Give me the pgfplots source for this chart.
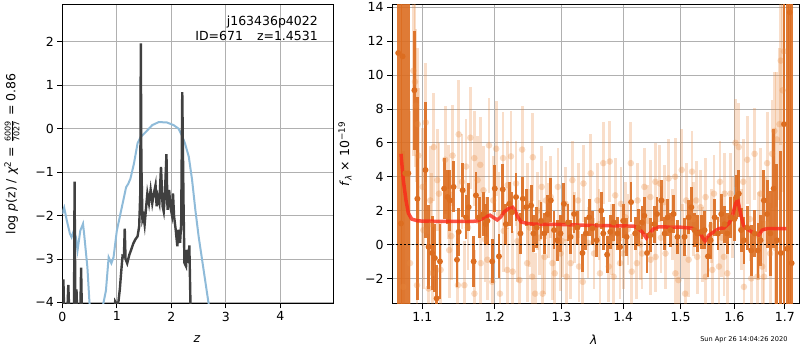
\documentclass[border=0pt]{standalone}
\usepackage{fontspec}
\setmainfont{DejaVu Sans}
\usepackage{pgfplots}
\usepackage{pgfplotstable}
\pgfplotsset{compat=1.18}
\definecolor{gridgray}{HTML}{B0B0B0}
\definecolor{pzblue}{HTML}{8FBBD9}
\definecolor{pzgray}{HTML}{404040}
\definecolor{darkor}{HTML}{DC6D20}
\definecolor{lightor}{HTML}{E8893F}
\definecolor{modelred}{HTML}{FA2819}

\pgfplotstableread{
z y
0.000 -4.30
0.020 -3.47
0.035 -4.30
0.090 -4.30
0.110 -3.60
0.130 -4.30
0.215 -4.30
0.225 -1.22
0.240 -4.30
0.260 -3.70
0.275 -4.30
0.330 -4.30
0.345 -3.20
0.360 -4.30
0.950 -4.30
0.970 -3.98
1.000 -4.05
1.030 -3.98
1.055 -3.70
1.080 -3.30
1.105 -2.93
1.130 -2.95
1.145 -2.30
1.160 -3.00
1.190 -3.10
1.230 -2.90
1.260 -2.80
1.300 -2.65
1.340 -2.55
1.380 -2.48
1.410 -2.25
1.430 -1.50
1.440 1.96
1.450 -0.80
1.470 -2.10
1.490 -2.02
1.510 -2.21
1.530 -1.91
1.560 -1.49
1.590 -1.72
1.620 -1.41
1.650 -1.72
1.680 -1.49
1.710 -1.30
1.730 -1.79
1.750 -1.56
1.780 -1.72
1.810 -0.88
1.840 -1.79
1.860 -1.91
1.880 -1.56
1.910 -0.59
1.930 -1.87
1.960 -1.41
1.980 -1.79
2.010 -1.98
2.030 -1.49
2.050 -2.02
2.080 -2.33
2.110 -2.71
2.130 -2.33
2.160 -2.63
2.180 -2.18
2.200 0.84
2.225 -1.90
2.240 -3.09
2.270 -3.17
2.285 -2.79
2.310 -3.09
2.330 -2.69
2.350 -4.00
2.360 -4.30
}\graytab

\pgfplotstableread{
z y
0.000 -1.96
0.035 -1.82
0.080 -2.10
0.140 -2.42
0.170 -2.50
0.210 -2.35
0.250 -2.50
0.280 -2.80
0.330 -2.35
0.380 -2.19
0.400 -2.42
0.460 -3.19
0.500 -4.04
0.520 -4.30
0.730 -4.30
0.750 -4.04
0.800 -3.73
0.850 -2.96
0.900 -3.10
0.940 -2.96
1.000 -2.35
1.080 -1.88
1.170 -1.35
1.210 -1.27
1.250 -1.15
1.315 -0.80
1.380 -0.34
1.440 -0.19
1.530 -0.08
1.650 0.08
1.770 0.15
1.920 0.14
2.040 0.08
2.130 0.00
2.190 -0.15
2.250 -0.34
2.320 -0.65
2.380 -1.18
2.440 -1.87
2.500 -2.48
2.590 -3.24
2.680 -4.00
2.720 -4.30
}\bluetab

\pgfplotstableread{
x y e
1.0687 11.3 20
1.0722 1.24 20
1.0743 11.1 20
1.0778 4.2 20
1.0817 4.2 12
1.0896 9.1 3.5
1.0935 2.7 6
1.1042 4.4 4
1.1083 -0.14 2.5
1.1130 -0.5 2.2
1.1167 -0.8 2.0
1.1190 -3.18 2.0
1.1236 -1.0 2.2
1.1292 3.3 1.8
1.1338 2.8 1.6
1.1370 2.6 1.8
1.1421 3.4 1.5
1.1468 -0.9 1.6
1.1491 0.75 1.4
1.1546 3.2 1.6
1.1593 1.6 1.3
1.1630 2.2 1.4
1.1699 -1.0 1.5
1.1732 2.9 1.4
1.1778 1.6 1.2
1.1833 1.8 1.3
1.1870 1.2 1.2
1.1894 1.4 1.4
1.1963 -1.0 1.3
1.2000 3.3 1.4
1.2060 -0.7 1.3
1.2115 3.25 1.5
1.2160 1.2 1.2
1.2210 2.4 1.3
1.2250 1.9 1.2
1.2310 2.8 1.4
1.2375 0.65 1.2
1.2410 2.7 1.3
1.2460 2.2 1.1
1.2535 2.3 1.2
1.2570 0.65 1.1
1.2620 1.0 1.2
1.2685 1.4 1.1
1.2735 0.65 1.2
1.2785 1.8 1.1
1.2835 2.6 1.3
1.2885 0.85 1.1
1.2935 0.25 1.2
1.2985 0.65 1.1
1.3037 2.4 1.2
1.3102 1.3 1.1
1.3144 0.45 1.0
1.3198 1.8 1.1
1.3251 1.0 1.0
1.3332 -0.5 1.1
1.3385 0.65 1.0
1.3439 1.6 1.1
1.3492 0.95 1.0
1.3562 0.25 1.0
1.3637 2.0 1.1
1.3669 0.65 1.0
1.3733 -0.6 1.1
1.3786 0.75 1.0
1.3840 1.3 1.1
1.3904 0.65 1.0
1.3947 -0.15 1.1
1.4000 1.4 1.0
1.4058 0.45 1.1
1.4134 2.5 1.2
1.4203 0.65 1.0
1.4261 1.0 1.1
1.4320 1.3 1.0
1.4360 1.7 1.1
1.4407 -0.5 1.2
1.4465 0.55 1.0
1.4535 1.2 1.1
1.4581 1.8 1.0
1.4657 2.6 1.2
1.4715 0.65 1.0
1.4767 1.6 1.1
1.4814 0.85 1.0
1.4872 1.8 1.1
1.4942 0.45 1.0
1.5069 0.45 1.1
1.5144 1.6 1.0
1.5194 2.2 1.2
1.5250 0.85 1.0
1.5300 0.65 1.1
1.5375 0.75 1.0
1.5438 0.85 1.1
1.5500 -0.7 1.2
1.5550 0.25 1.1
1.5625 1.6 1.1
1.5688 0.65 1.0
1.5750 1.8 1.2
1.5813 1.2 1.1
1.5863 0.65 1.2
1.5925 1.6 1.2
1.6000 1.5 1.3
1.6039 2.8 1.3
1.6085 3.0 1.4
1.6131 0.85 1.3
1.6183 0.25 1.4
1.6249 1.0 1.3
1.6327 -0.35 1.5
1.6392 0.65 1.4
1.6458 -0.35 1.6
1.6510 0.25 1.5
1.6576 2.6 1.8
1.6641 1.8 2.0
1.6706 0.65 2.5
1.6772 3.3 3.5
1.6837 0.25 4.5
1.6916 -0.5 6
1.6981 7.1 20
1.7046 -0.25 20
1.7099 13.7 20
1.7138 -1.1 20
}\darktab

\pgfplotstableread{
x y e
1.0750 -2.5 8
1.0839 -1.1 9
1.0883 10.25 5
1.0904 9.6 5
1.0917 8.2 4.5
1.0930 -2.4 5
1.0940 7.1 4.5
1.0948 5.25 4
1.1005 3.4 3.5
1.1014 0.85 3.5
1.1046 7.2 3.5
1.1083 -2.6 3.2
1.1106 2.6 3.2
1.1120 1.2 3.0
1.1130 -1.7 3.0
1.1153 5.75 3.2
1.1199 3.8 3.0
1.1222 3.0 3.0
1.1245 -1.5 2.8
1.1306 5.0 3.2
1.1347 3.1 2.8
1.1361 -0.33 2.8
1.1390 0.5 2.6
1.1407 5.25 3.0
1.1480 -2.4 2.8
1.1491 6.5 3.2
1.1537 3.7 2.8
1.1570 -2.4 2.6
1.1593 4.6 2.8
1.1620 1.0 2.5
1.1653 6.3 3.0
1.1708 5.1 2.8
1.1710 -2.9 2.6
1.1755 3.8 2.6
1.1792 4.7 2.8
1.1800 -1.1 2.5
1.1838 3.2 2.6
1.1860 0.3 2.5
1.1894 -0.9 2.4
1.1917 5.85 2.8
1.1963 -2.2 2.5
1.1977 2.6 2.6
1.2020 5.65 2.8
1.2060 1.8 2.5
1.2075 -2.9 2.6
1.2120 5.1 2.7
1.2130 0.8 2.4
1.2180 -1.5 2.5
1.2185 3.5 2.6
1.2235 5.2 2.7
1.2260 -1.6 2.4
1.2310 3.6 2.5
1.2330 0.2 2.4
1.2360 -2.1 2.4
1.2400 5.6 2.6
1.2475 -1.1 2.3
1.2485 2.4 2.4
1.2510 1.0 2.3
1.2550 -1.9 2.4
1.2560 5.15 2.6
1.2595 -2.9 2.4
1.2635 2.0 2.3
1.2660 0.4 2.2
1.2695 3.4 2.4
1.2710 -2.9 2.3
1.2740 -0.73 2.2
1.2760 2.6 2.3
1.2800 1.4 2.2
1.2835 2.8 2.4
1.2860 -1.1 2.2
1.2895 -1.7 2.3
1.2945 3.4 2.3
1.2985 -0.53 2.2
1.3010 0.2 2.1
1.3064 2.4 2.2
1.3080 -1.9 2.2
1.3144 -1.1 2.1
1.3171 3.8 2.3
1.3200 1.0 2.1
1.3262 2.6 2.2
1.3278 -1.3 2.1
1.3337 -2.2 2.2
1.3348 3.6 2.3
1.3420 0.1 2.1
1.3465 4.2 2.3
1.3519 -0.53 2.1
1.3572 2.6 2.2
1.3600 1.2 2.1
1.3615 -1.7 2.2
1.3669 4.8 2.4
1.3760 -1.3 2.1
1.3776 4.9 2.4
1.3800 0.3 2.1
1.3840 -1.9 2.2
1.3867 2.9 2.2
1.3947 -1.1 2.1
1.3963 2.4 2.2
1.4000 -0.53 2.1
1.4041 1.6 2.1
1.4080 0.9 2.1
1.4128 4.8 2.4
1.4145 -1.6 2.2
1.4232 -1.1 2.1
1.4244 2.6 2.2
1.4290 0.0 2.1
1.4320 -0.53 2.1
1.4360 3.4 2.3
1.4420 1.4 2.1
1.4465 2.8 2.2
1.4470 -0.9 2.1
1.4552 3.7 2.3
1.4555 -0.73 2.1
1.4628 3.6 2.3
1.4650 0.4 2.1
1.4709 2.5 2.2
1.4730 -0.53 2.1
1.4785 3.9 2.3
1.4850 1.2 2.1
1.4901 4.0 2.3
1.4905 -1.7 2.2
1.4960 -2.1 2.2
1.5019 4.4 2.4
1.5040 0.2 2.2
1.5081 -2.9 2.3
1.5100 2.6 2.2
1.5144 -0.9 2.2
1.5206 4.3 2.4
1.5230 1.5 2.2
1.5281 2.6 2.3
1.5300 -0.73 2.2
1.5363 2.2 2.2
1.5400 0.0 2.2
1.5456 2.8 2.3
1.5460 -1.9 2.3
1.5560 1.1 2.2
1.5581 -1.5 2.3
1.5613 3.0 2.3
1.5706 -1.3 2.3
1.5725 3.7 2.4
1.5760 0.4 2.3
1.5800 -0.73 2.3
1.5813 3.0 2.4
1.5863 -1.7 2.4
1.5925 3.0 2.4
1.5960 1.6 2.4
1.6020 6.0 2.6
1.6085 5.75 2.6
1.6130 0.9 2.4
1.6170 3.7 2.5
1.6183 -2.5 2.5
1.6249 5.0 2.6
1.6300 1.5 2.5
1.6327 -2.0 2.5
1.6392 5.35 2.7
1.6445 -1.9 2.6
1.6470 0.5 2.6
1.6510 3.0 2.7
1.6543 -1.3 2.7
1.6580 -1.9 2.8
1.6620 1.2 2.8
1.6641 4.8 3.0
1.6700 -0.53 3.0
1.6739 5.35 3.2
1.6785 6.7 3.5
1.6800 -0.2 3.5
1.6837 6.2 4
1.6889 7.1 4.5
1.6916 10.85 5
1.6955 9.1 6
1.6981 11.4 7
}\lighttab

\pgfplotstableread{
x y
1.0722 5.35
1.0752 3.80
1.0787 2.60
1.0817 1.85
1.0861 1.50
1.0935 1.40
1.1000 1.38
1.1200 1.37
1.1500 1.37
1.1700 1.37
1.1755 1.40
1.1847 1.58
1.1931 1.73
1.1986 1.58
1.2035 1.45
1.2085 1.62
1.2135 1.92
1.2210 2.15
1.2260 2.20
1.2295 2.00
1.2335 1.63
1.2385 1.33
1.2485 1.24
1.2585 1.20
1.3000 1.18
1.3500 1.12
1.4000 1.10
1.4180 1.08
1.4232 1.00
1.4320 0.75
1.4395 0.38
1.4453 0.65
1.4523 0.94
1.4610 1.04
1.5000 1.02
1.5206 0.96
1.5300 0.75
1.5375 0.55
1.5444 0.18
1.5519 0.55
1.5613 0.75
1.5706 0.94
1.5800 0.98
1.5894 1.24
1.5956 1.63
1.6020 2.40
1.6065 2.65
1.6118 1.82
1.6183 1.04
1.6281 0.85
1.6392 0.65
1.6477 0.55
1.6543 0.85
1.6641 0.94
1.7033 0.94
}\modeltab

\pgfplotsset{
  panel/.style={
    scale only axis,
    anchor=south west,
    axis line style={line width=1pt, black},
    grid=major,
    major grid style={line width=0.8pt, gridgray},
    tick align=outside,
    major tick length=5pt,
    minor tick length=0pt,
    tick style={line width=0.8pt, black},
    xtick pos=bottom, ytick pos=left,
    ticklabel style={font=\fontsize{12.5}{15}\selectfont},
    label style={font=\fontsize{12.5}{15}\selectfont},
    clip=true,
  }
}

\begin{document}
\begin{tikzpicture}[x=1pt,y=1pt]
\path[use as bounding box] (0,0) rectangle (800,350);

\begin{axis}[panel,
  at={(62.3pt,46.7pt)}, width=271pt, height=298.6pt,
  xmin=0, xmax=4.97, ymin=-4.02, ymax=2.85,
  xtick={0,1,2,3,4}, xticklabels={0,1,2,3,4},
  ytick={-4,-3,-2,-1,0,1,2}, yticklabels={−4,−3,−2,−1,0,1,2},
  xlabel={\textit{z}},
  xlabel style={at={(axis description cs:0.497,-0.12)}, anchor=center},
  ylabel={log \textit{p}(z) / \textit{χ}\textsuperscript{2} = $\frac{\mbox{\fontsize{8}{9}\selectfont 6009}}{\mbox{\fontsize{8}{9}\selectfont 7027}}$ = 0.86},
  ylabel style={at={(axis description cs:-0.1856,0.5)}, anchor=center},
]
\addplot[pzblue, line width=2pt] table[x=z,y=y] {\bluetab};
\addplot[pzgray, line width=2.4pt] table[x=z,y=y] {\graytab};
\node[anchor=base east, font=\fontsize{12.5}{15}\selectfont, inner sep=0pt] at (axis description cs:0.9435,0.9287) {j163436p4022};
\node[anchor=base east, font=\fontsize{12.5}{15}\selectfont, inner sep=0pt] at (axis description cs:0.9435,0.8794) {ID=671\hspace{14pt}z=1.4531};
\end{axis}

\begin{axis}[panel,
  at={(392pt,46pt)}, width=407pt, height=299.3pt,
  xmode=log,
  xmin=1.0607, xmax=1.729, ymin=-3.51, ymax=14.15,
  xtick={1.1,1.2,1.3,1.4,1.5,1.6,1.7}, xticklabels={1.1,1.2,1.3,1.4,1.5,1.6,1.7},
  ytick={-2,0,2,4,6,8,10,12,14}, yticklabels={−2,0,2,4,6,8,10,12,14},
  xlabel={\textit{λ}},
  xlabel style={at={(axis description cs:0.496,-0.12)}, anchor=center},
  ylabel={\textit{f}\textsubscript{\textit{λ}} × 10\textsuperscript{−19}},
  ylabel style={at={(axis description cs:-0.1155,0.5)}, anchor=center},
]
\addplot[color=lightor, only marks, mark=*, mark size=3.3pt,
  mark options={solid, draw opacity=0, fill=lightor, fill opacity=0.3},
  error bars/.cd, y dir=both, y explicit, error mark=none,
  error bar style={line width=2.8pt, lightor, opacity=0.28}]
  table[x=x, y=y, y error=e] {\lighttab};
\addplot[color=darkor, only marks, mark=*, mark size=3pt,
  mark options={solid, draw opacity=0, fill=darkor},
  error bars/.cd, y dir=both, y explicit, error mark=none,
  error bar style={line width=2.8pt, darkor, opacity=0.9}]
  table[x=x, y=y, y error=e] {\darktab};
\addplot[modelred, line width=3.5pt, opacity=0.8] table[x=x,y=y] {\modeltab};
\addplot[black, line width=1.5pt, dash pattern=on 1.5pt off 2.5pt] coordinates {(1.0607,0) (1.729,0)};
\end{axis}

\node[anchor=east, font=\fontsize{6.6}{8}\selectfont, inner sep=0pt] at (787.7,10) {Sun Apr 26 14:04:26 2020};
\end{tikzpicture}
\end{document}
